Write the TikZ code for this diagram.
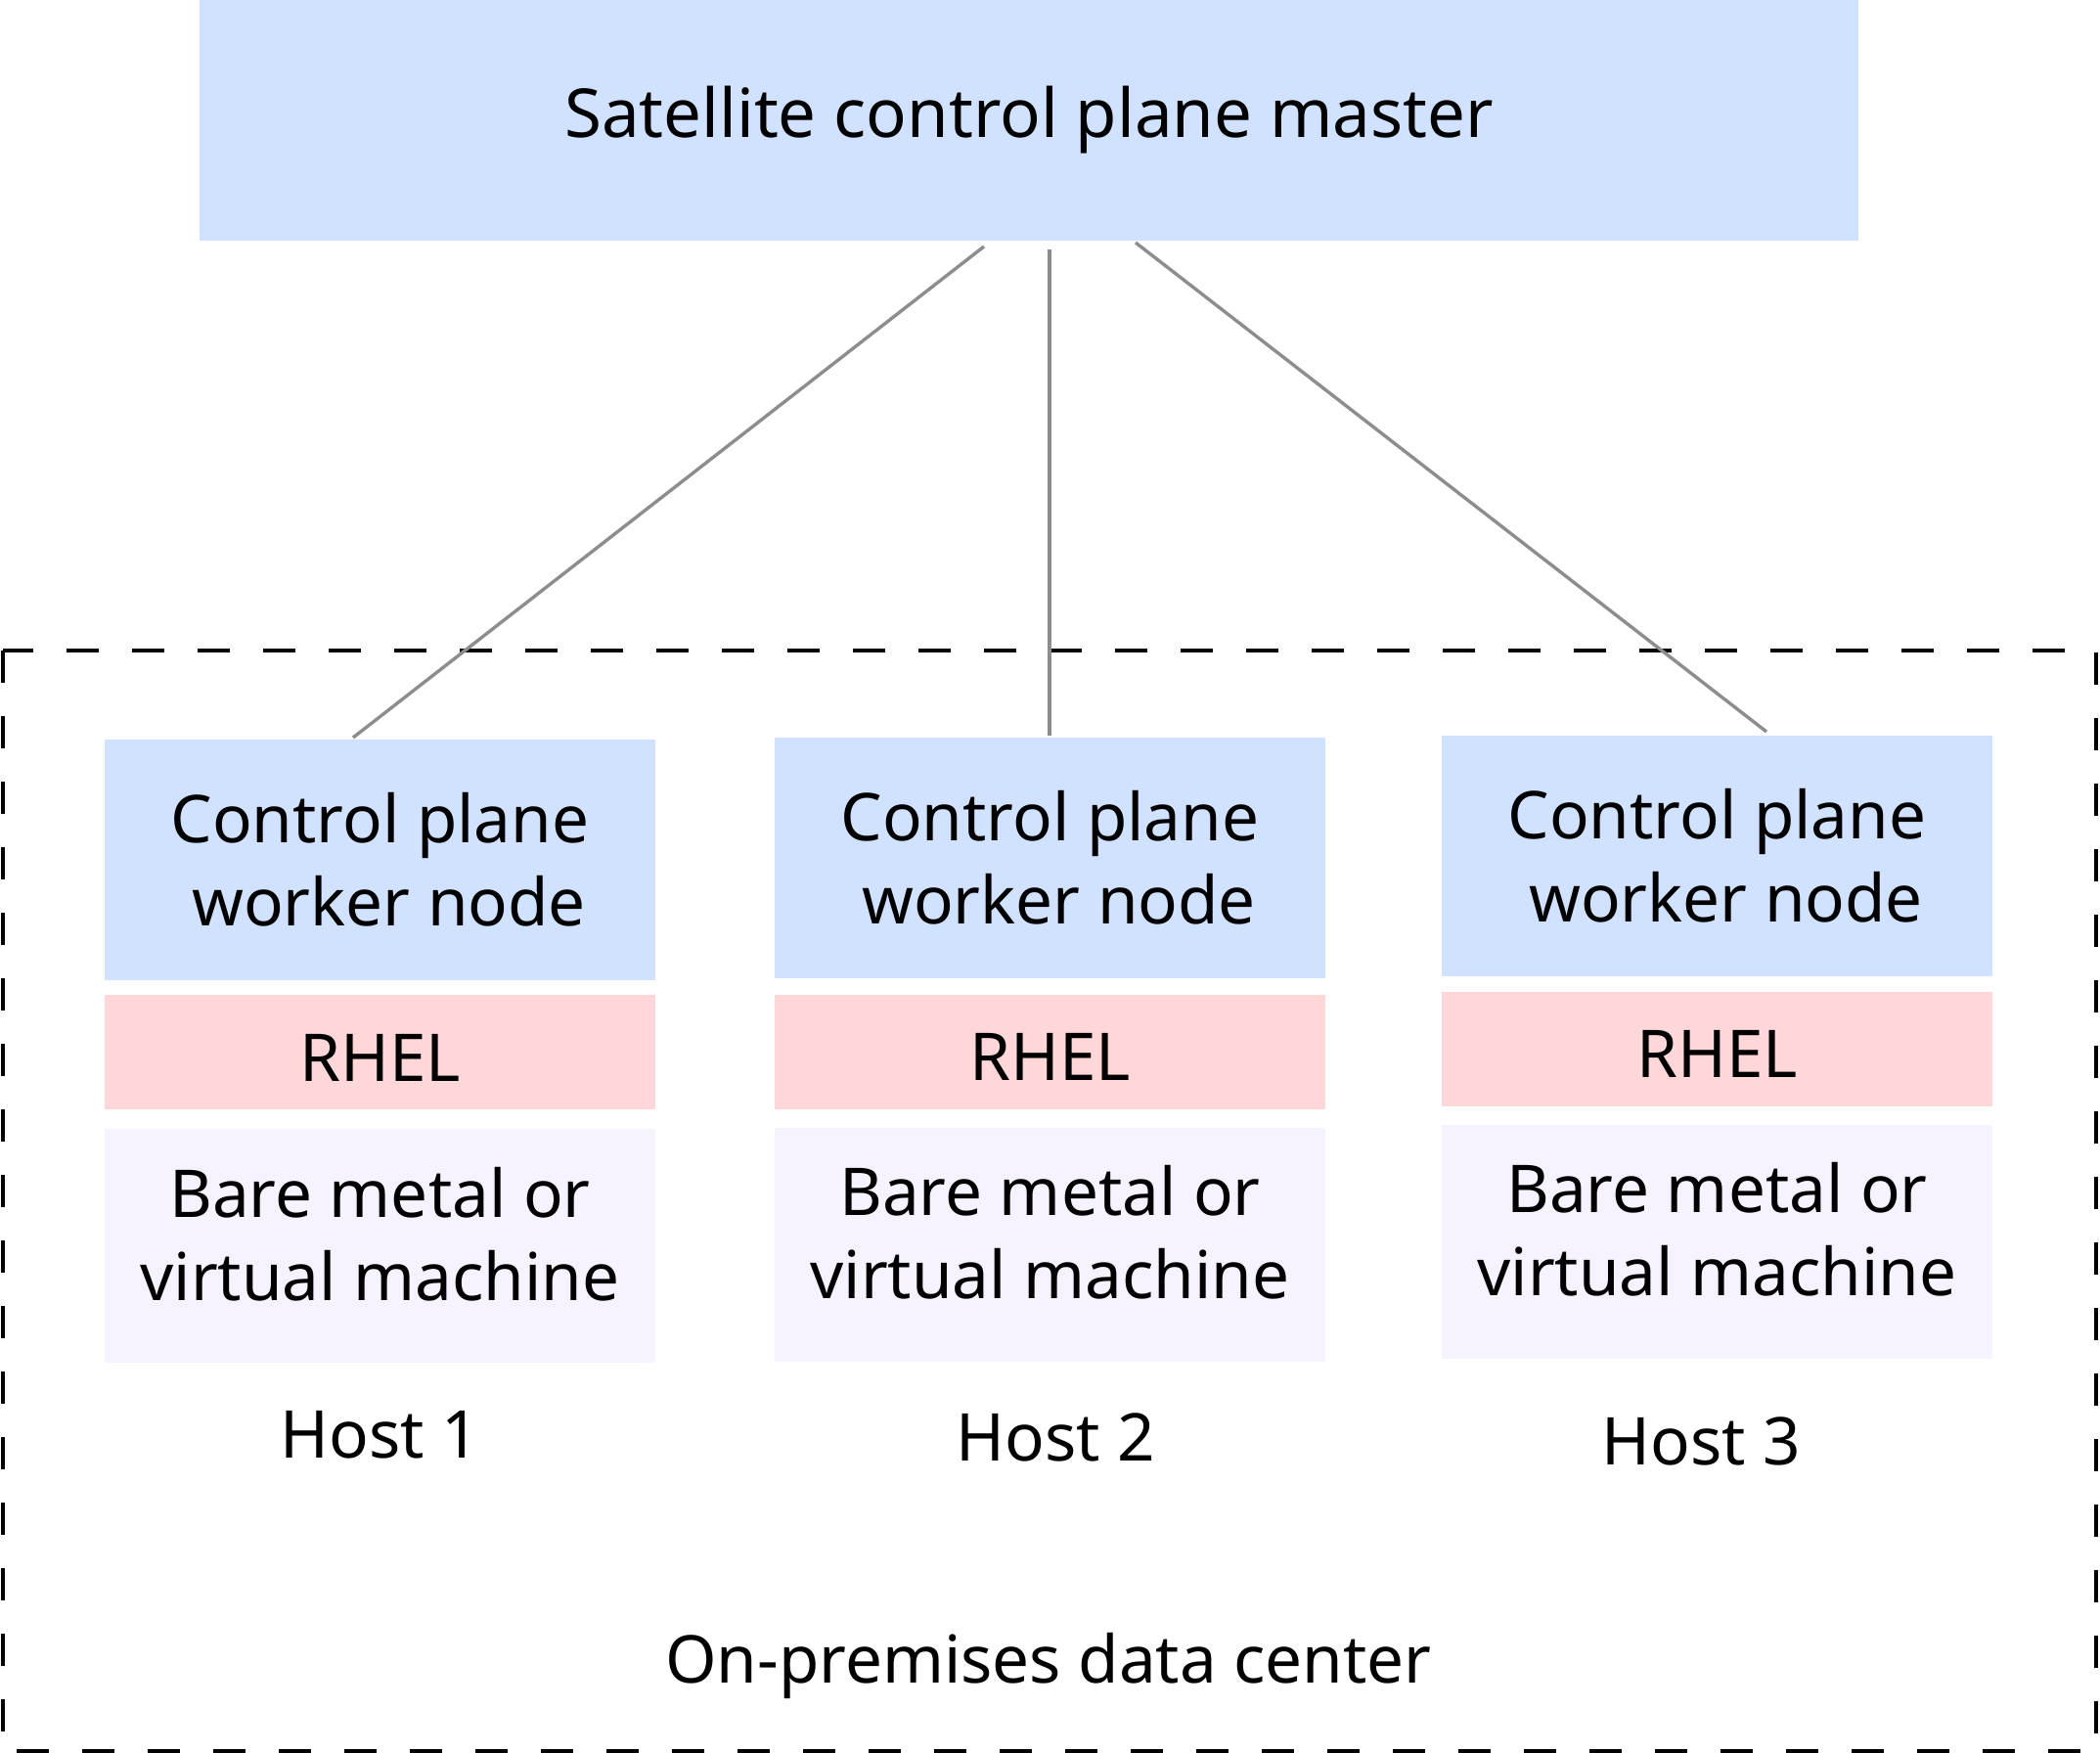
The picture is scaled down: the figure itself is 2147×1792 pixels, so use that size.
\documentclass[tikz,border=0pt]{standalone}
\usepackage{fontspec}
\setmainfont{Noto Sans}
\definecolor{cpblue}{HTML}{D0E2FF}
\definecolor{rhelpink}{HTML}{FFD7D9}
\definecolor{vmlav}{HTML}{F6F2FF}
\definecolor{linegray}{HTML}{8D8D8D}
\tikzset{
  px/.style={x=0.5pt,y=-0.5pt},
  txt/.style={font=\fontsize{33.7}{42.5}\selectfont, text=black, align=center, inner sep=0pt, outer sep=0pt},
  fillbox/.style={draw=none, rectangle, inner sep=0pt, outer sep=0pt, minimum width=#1},
  bluebox/.style={txt, fillbox=281.5pt, fill=cpblue, minimum height=123pt},
  rhelbox/.style={fillbox=281.5pt, fill=rhelpink, minimum height=58.5pt},
  vmbox/.style={fillbox=281.5pt, fill=vmlav, minimum height=119.5pt},
  rheltxt/.style={txt, yshift=-2.75pt},
  vmtxt/.style={txt, yshift=6pt},
  conn/.style={draw=linegray, line width=1.7pt},
  region/.style={draw=black, line width=2pt, dash pattern=on 16.5pt off 17pt},
}
\begin{document}
\begin{tikzpicture}[px]
\path[use as bounding box] (0,0) rectangle (2147,1792);
% region
\draw[region] (3,665) rectangle (2143,1790);
\node[txt] (dc) at (1072,1703) {On-premises data center};
% master
\node[txt, font=\fontsize{34.5}{42.5}\selectfont, fill=cpblue, minimum width=848pt, minimum height=123pt] (master) at (1052,123) {Satellite control plane master};
% column 1
\node[bluebox] (cp1) at (388.5,879) {Control plane\\\hspace*{9pt}worker node};
\node[rhelbox] (rhel1) at (388.5,1075.5) {};
\node[rheltxt] (rhel1t) at (rhel1) {RHEL};
\node[vmbox] (vm1) at (388.5,1273.5) {};
\node[vmtxt] (vm1t) at (vm1) {Bare metal or\\virtual machine};
\node[txt] (h1) at (388,1467) {Host 1};
% column 2
\node[bluebox] (cp2) at (1073.5,877) {Control plane\\\hspace*{9pt}worker node};
\node[rhelbox] (rhel2) at (1073.5,1075) {};
\node[rheltxt] (rhel2t) at (rhel2) {RHEL};
\node[vmbox] (vm2) at (1073.5,1272) {};
\node[vmtxt] (vm2t) at (vm2) {Bare metal or\\virtual machine};
\node[txt] (h2) at (1079,1469) {Host 2};
% column 3
\node[bluebox] (cp3) at (1755.5,874.5) {Control plane\\\hspace*{9pt}worker node};
\node[rhelbox] (rhel3) at (1755.5,1072) {};
\node[rheltxt] (rhel3t) at (rhel3) {RHEL};
\node[vmbox] (vm3) at (1755.5,1269) {};
\node[vmtxt] (vm3t) at (vm3) {Bare metal or\\virtual machine};
\node[txt] (h3) at (1739,1473) {Host 3};
% connector ends
\coordinate (m1) at (1006,252);
\coordinate (m2) at (1073,255);
\coordinate (m3) at (1161,248);
\coordinate (c1) at (361,754);
\coordinate (c2) at (1073,752);
\coordinate (c3) at (1806,748);
\draw[conn] (m1) -- (c1);
\draw[conn] (m2) -- (c2);
\draw[conn] (m3) -- (c3);
\end{tikzpicture}
\end{document}
